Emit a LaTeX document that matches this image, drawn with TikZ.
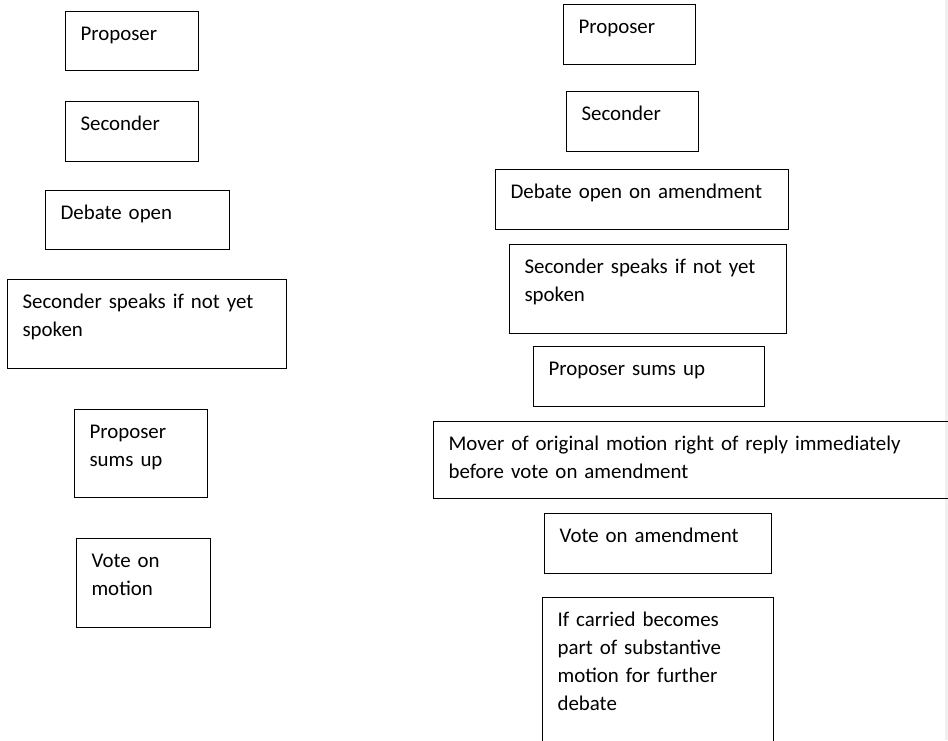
\documentclass[tikz,border=0pt]{standalone}
\usepackage{fontspec}
\setmainfont{Carlito}
\usepackage{tikz}
\usetikzlibrary{positioning,calc}

\begin{document}
\begin{tikzpicture}[x=1pt,y=-1pt,
	stage/.style={draw, line width=1.1pt, anchor=north west, align=left, inner xsep=15pt, inner ysep=0pt, text height=28.5pt, font=\fontsize{20.9}{28.3}\selectfont}]
		\clip (0,0) rectangle (948,740);
		\useasboundingbox (0,0) rectangle (948,740);
		\fill[black!6] (945,0) rectangle (948,740);
		% left column: motion
		\node[stage, text width=103pt, text depth=30.5pt] (lprop) at (65,11) {Proposer};
		\node[stage, text width=103pt, text depth=31.5pt] (lsec) at (65,101) {Seconder};
		\node[stage, text width=154pt, text depth=30.5pt] (ldeb) at (45,190) {Debate open};
		\node[stage, text width=249pt, text depth=60.5pt] (lspk) at (7,279) {Seconder speaks if not yet\\spoken};
		\node[stage, text width=103pt, text depth=59.5pt] (lsum) at (74,409) {Proposer\\sums up};
		\node[stage, text width=104pt, text depth=60.5pt] (lvote) at (76,538) {Vote on\\motion};
		% right column: amendment
		\node[stage, text width=102pt, text depth=31.5pt] (rprop) at (563,4) {Proposer};
		\node[stage, text width=102pt, text depth=31.5pt] (rsec) at (566,91) {Seconder};
		\node[stage, text width=263pt, text depth=31.5pt] (rdeb) at (495,169) {Debate open on amendment};
		\node[stage, text width=247pt, text depth=60.5pt] (rspk) at (509,244) {Seconder speaks if not yet\\spoken};
		\node[stage, text width=201pt, text depth=31.5pt] (rsum) at (533,346) {Proposer sums up};
		\node[stage, text width=510pt, text depth=48.5pt] (rmover) at (433,421) {Mover of original motion right of reply immediately\\before vote on amendment};
		\node[stage, text width=197pt, text depth=31.5pt] (rvote) at (544,513) {Vote on amendment};
		\node[stage, text width=201pt, text depth=132pt] (rcarried) at (542,597) {If carried becomes\\part of substantive\\motion for further\\debate};
	\end{tikzpicture}
\end{document}
